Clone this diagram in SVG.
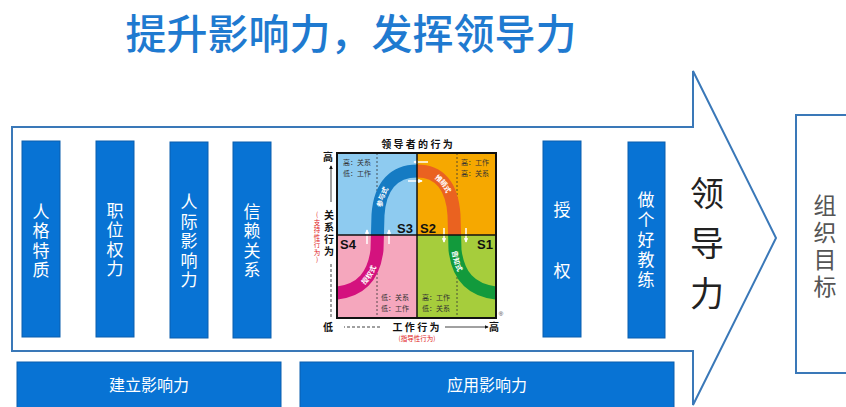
<svg xmlns="http://www.w3.org/2000/svg" width="846" height="407" viewBox="0 0 846 407">
  <style>
    .cjk { font-family: "Noto Sans CJK SC", "Noto Sans", sans-serif; }
    .vt { writing-mode: vertical-rl; text-orientation: upright; text-anchor: middle; }
    .title { font-size: 41px; font-weight: 500; fill: #1f7ad0; }
    .bar { fill: #0873d4; stroke: #0a5fae; stroke-width: 1; }
    .barText { font-size: 17px; fill: #ffffff; }
    .wideText { font-size: 16px; fill: #ffffff; text-anchor: middle; }
    .outline { fill: #ffffff; stroke: #3a78b8; stroke-width: 2; }
    .lead { font-size: 34px; fill: #222222; }
    .goal { font-size: 23px; fill: #555555; }
    .ax { font-size: 10px; font-weight: bold; fill: #111; text-anchor: middle; }
    .axRed { font-size: 6.5px; fill: #e02020; }
    .q { font-size: 7px; fill: #333; }
    .s { font-family: "Liberation Sans", Arial, sans-serif; font-size: 13px; font-weight: bold; fill: #111; }
    .band { fill: none; stroke-width: 13; }
    .bandText { font-size: 7px; font-weight: bold; fill: #ffffff; }
    .grid { stroke: #111; stroke-width: 1.5; }
    .dash { stroke: #333; stroke-width: 0.8; stroke-dasharray: 2 2; }
    .tiny { stroke: #ffffff; stroke-width: 1.5; fill: none; }
  </style>
  <defs>
    <marker id="axHead" viewBox="0 0 6 6" refX="5" refY="3" markerWidth="5" markerHeight="5" orient="auto">
      <path d="M0,0 L6,3 L0,6 z" fill="#111"/>
    </marker>
    <marker id="whiteHead" viewBox="0 0 6 6" refX="5" refY="3" markerWidth="3" markerHeight="3" orient="auto">
      <path d="M0,0 L6,3 L0,6 z" fill="#fff"/>
    </marker>
    <path id="curve" d="M337,293 C362,290 374,275 377,250 L378,215 C380,185 395,171 417,171 C439,171 452,185 454,215 L455,250 C458,275 470,290 496,293"/>
    <clipPath id="qTL"><rect x="337" y="153" width="80" height="82"/></clipPath>
    <clipPath id="qTR"><rect x="417" y="153" width="79" height="82"/></clipPath>
    <clipPath id="qBL"><rect x="337" y="235" width="80" height="83"/></clipPath>
    <clipPath id="qBR"><rect x="417" y="235" width="79" height="83"/></clipPath>
  </defs>

  <rect width="846" height="407" fill="#ffffff"/>

  <!-- heading -->
  <text class="cjk title" x="351" y="49" text-anchor="middle">提升影响力，发挥领导力</text>

  <!-- large hollow arrow -->
  <path class="outline" d="M12,127 L693,127 L693,71 L776,238 L693,405 L693,351 L12,351 Z"/>

  <!-- target box -->
  <g id="goal">
    <rect x="796" y="115" width="70" height="258" fill="#ffffff" stroke="#3a78b8" stroke-width="2"/>
    <text class="cjk goal vt" x="825" y="248" letter-spacing="4">组织目标</text>
  </g>

  <!-- leadership label inside arrow head -->
  <g id="leadership">
    <text class="cjk lead vt" x="707" y="251" letter-spacing="16">领导力</text>
  </g>

  <!-- influence pillars -->
  <g id="trait">
    <rect class="bar" x="22" y="141" width="38" height="196"/>
    <text class="cjk barText vt" x="41" y="242" letter-spacing="2.5">人格特质</text>
  </g>
  <g id="position">
    <rect class="bar" x="96" y="141" width="38" height="196"/>
    <text class="cjk barText vt" x="115" y="241" letter-spacing="2.5">职位权力</text>
  </g>
  <g id="interpersonal">
    <rect class="bar" x="170" y="142" width="38" height="196"/>
    <text class="cjk barText vt" x="189" y="242" letter-spacing="2.5">人际影响力</text>
  </g>
  <g id="trust">
    <rect class="bar" x="233" y="142" width="38" height="196"/>
    <text class="cjk barText vt" x="252" y="242" letter-spacing="2.5">信赖关系</text>
  </g>
  <g id="empower">
    <rect class="bar" x="543" y="141" width="38" height="196"/>
    <text class="cjk barText vt" x="562" y="262" letter-spacing="44">授权</text>
  </g>
  <g id="coach">
    <rect class="bar" x="628" y="142" width="37" height="196"/>
    <text class="cjk barText vt" x="646" y="241" letter-spacing="3">做个好教练</text>
  </g>

  <!-- bottom stages -->
  <g id="build">
    <rect class="bar" x="17" y="362" width="264" height="55"/>
    <text class="cjk wideText" x="149" y="391">建立影响力</text>
  </g>
  <g id="apply">
    <rect class="bar" x="300" y="362" width="374" height="55"/>
    <text class="cjk wideText" x="487" y="391">应用影响力</text>
  </g>

  <!-- situational leadership chart -->
  <g id="situational">
    <text class="cjk ax" x="417" y="148">领 导 者 的 行 为</text>
    <rect x="337" y="153" width="80" height="82" fill="#8ecbf0"/>
    <rect x="417" y="153" width="79" height="82" fill="#f6a800"/>
    <rect x="337" y="235" width="80" height="83" fill="#f5a7bd"/>
    <rect x="417" y="235" width="79" height="83" fill="#a6cd3c"/>
    <line class="dash" x1="377" y1="153" x2="377" y2="318"/>
    <line class="dash" x1="457" y1="153" x2="457" y2="318"/>

    <text class="cjk q" x="343" y="165">高：关系</text>
    <text class="cjk q" x="343" y="176">低：工作</text>
    <text class="cjk q" x="461" y="165">高：工作</text>
    <text class="cjk q" x="461" y="176">高：关系</text>
    <text class="cjk q" x="381" y="300">低：关系</text>
    <text class="cjk q" x="381" y="311">低：工作</text>
    <text class="cjk q" x="422" y="300">高：工作</text>
    <text class="cjk q" x="422" y="311">低：关系</text>

    <use href="#curve" class="band" stroke="#157bc3" clip-path="url(#qTL)"/>
    <use href="#curve" class="band" stroke="#ea6220" clip-path="url(#qTR)"/>
    <use href="#curve" class="band" stroke="#d4127e" clip-path="url(#qBL)"/>
    <use href="#curve" class="band" stroke="#129a3c" clip-path="url(#qBR)"/>
    <text class="cjk bandText" dominant-baseline="central"><textPath href="#curve" startOffset="38" text-anchor="middle">授权式</textPath></text>
    <text class="cjk bandText" dominant-baseline="central"><textPath href="#curve" startOffset="118" text-anchor="middle">参与式</textPath></text>
    <text class="cjk bandText" dominant-baseline="central"><textPath href="#curve" startOffset="196" text-anchor="middle">推销式</textPath></text>
    <text class="cjk bandText" dominant-baseline="central"><textPath href="#curve" startOffset="276" text-anchor="middle">告知式</textPath></text>

    <line class="tiny" x1="428" y1="162" x2="414" y2="162" marker-end="url(#whiteHead)"/>
    <line class="tiny" x1="408" y1="181" x2="422" y2="181" marker-end="url(#whiteHead)"/>
    <line class="tiny" x1="367" y1="244" x2="367" y2="230" marker-end="url(#whiteHead)"/>
    <line class="tiny" x1="389" y1="244" x2="389" y2="230" marker-end="url(#whiteHead)"/>
    <line class="tiny" x1="444" y1="228" x2="444" y2="242" marker-end="url(#whiteHead)"/>
    <line class="tiny" x1="466" y1="228" x2="466" y2="242" marker-end="url(#whiteHead)"/>

    <line class="grid" x1="417" y1="153" x2="417" y2="318"/>
    <line class="grid" x1="337" y1="235" x2="496" y2="235"/>
    <rect x="337" y="153" width="159" height="165" fill="none" stroke="#111" stroke-width="2"/>

    <text class="s" x="413" y="233" text-anchor="end">S3</text>
    <text class="s" x="420" y="233">S2</text>
    <text class="s" x="340" y="249">S4</text>
    <text class="s" x="493" y="249" text-anchor="end">S1</text>

    <!-- axes -->
    <text class="cjk ax" x="328" y="161">高</text>
    <text class="cjk ax" x="328" y="331">低</text>
    <line x1="331" y1="202" x2="331" y2="166" stroke="#111" stroke-width="0.8" marker-end="url(#axHead)"/>
    <line x1="331" y1="264" x2="331" y2="318" stroke="#111" stroke-width="0.8" stroke-dasharray="3 2"/>
    <text class="cjk ax vt" x="329" y="234" letter-spacing="2">关系行为</text>
    <text class="cjk axRed vt" x="317" y="238" letter-spacing="1">(支持性行为)</text>
    <line x1="380" y1="327" x2="344" y2="327" stroke="#111" stroke-width="0.8" stroke-dasharray="3 2"/>
    <text class="cjk ax" x="416" y="331" font-size="11">工 作 行 为</text>
    <line x1="445" y1="327" x2="488" y2="327" stroke="#111" stroke-width="0.8" marker-end="url(#axHead)"/>
    <text class="cjk ax" x="494" y="331">高</text>
    <text class="cjk axRed" x="417" y="341" text-anchor="middle">(指导性行为)</text>
    <text x="501" y="316" font-family="Liberation Sans, sans-serif" font-size="6" fill="#333" text-anchor="middle">®</text>
  </g>
</svg>
